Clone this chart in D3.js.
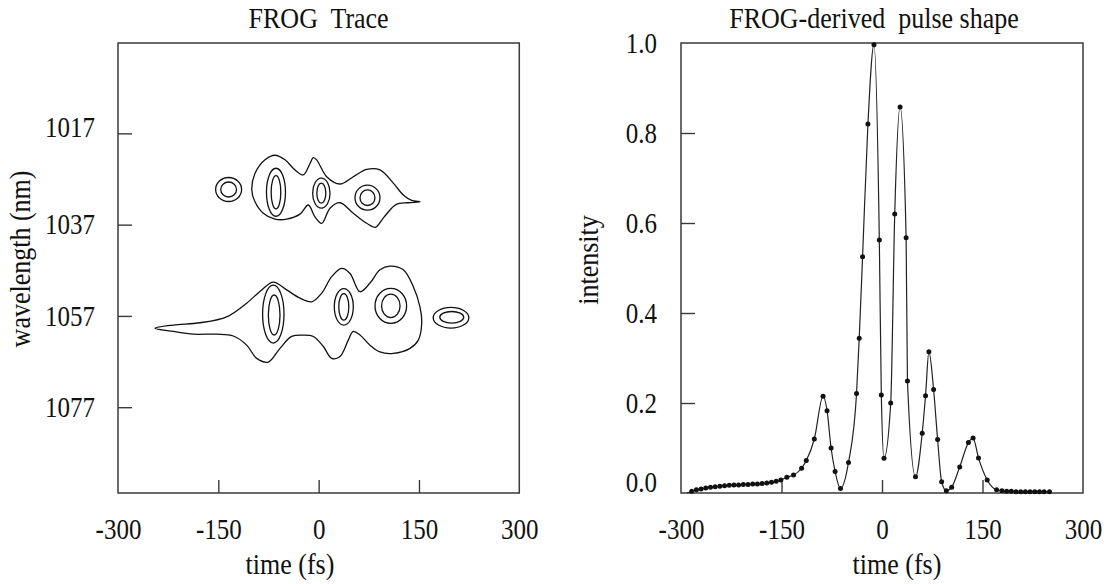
<!DOCTYPE html>
<html><head><meta charset="utf-8">
<script src="https://cdn.jsdelivr.net/npm/d3@7"></script>
<style>
body{margin:0;background:#fff}
svg{display:block}
text{font-family:"Liberation Serif","Times New Roman",serif;fill:#111;white-space:pre}
</style>
</head><body>
<svg id="c" width="1104" height="584"></svg>
<script>
// ---------- data ----------
const traceTimeTicks = [-300, -150, 0, 150, 300];
const traceWaveTicks = [1017, 1037, 1057, 1077];
const pulseTimeTicks = [-300, -150, 0, 150, 300];
const pulseIntensityTicks = [0, 0.2, 0.4, 0.6, 0.8, 1.0];

// outer contour of the upper (short-wavelength) lobe: [time fs, wavelength nm]
const upperOuter = [
  [-100,1029.4],[-95.2,1025.8],[-80.2,1022.8],[-65.3,1021.8],[-50.3,1022.8],[-35.4,1025.0],
  [-23.0,1026.1],[-12.9,1023.6],[-8.0,1022.3],[-2.9,1022.8],[12.0,1026.5],[31.9,1028.1],
  [51.8,1026.5],[71.8,1024.9],[91.7,1025.0],[111.6,1027.9],[126.6,1030.5],[139.1,1031.7],
  [151.5,1032.0],[133.6,1032.2],[115.6,1032.6],[98.0,1035.3],[84.5,1037.6],[71.8,1036.7],
  [51.8,1034.5],[31.9,1032.2],[17.0,1033.4],[4.6,1036.7],[-5.5,1035.3],[-15.5,1032.7],
  [-27.9,1034.7],[-47.8,1035.8],[-65.3,1035.8],[-82.8,1034.5],[-95.2,1032.0]
];
// outer contour of the lower (long-wavelength) lobe
const lowerOuter = [
  [-244.7,1059.7],[-217.3,1059.0],[-177.4,1058.5],[-137.5,1057.2],[-107.6,1054.2],[-85.1,1051.3],
  [-67.8,1049.6],[-47.8,1051.3],[-27.9,1053.1],[-10.4,1053.9],[4.6,1052.0],[19.5,1048.4],
  [34.5,1046.6],[46.9,1047.7],[61.8,1051.7],[76.8,1049.8],[91.7,1046.9],[106.7,1046.1],
  [126.6,1046.9],[141.5,1050.6],[151.5,1055.0],[154.1,1058.6],[149.0,1062.3],[136.6,1064.1],
  [111.6,1065.2],[91.7,1064.9],[76.8,1063.4],[61.8,1061.2],[51.8,1060.4],[44.3,1062.3],
  [31.9,1065.9],[19.5,1066.3],[7.0,1063.7],[-8.0,1061.5],[-23.0,1061.2],[-40.3,1061.5],
  [-57.8,1064.1],[-75.3,1067.1],[-92.6,1066.3],[-107.6,1063.4],[-127.6,1061.4],[-152.4,1061.0],
  [-187.4,1061.0],[-217.3,1060.4]
];
// closed ring contours: centre (time, wavelength) and half-widths (fs, nm)
const ringTime = [-134.6,-134.6,-63.8,-63.8,4.0,4.0,73.0,73.0,-67.8,-66.5,37.6,37.6,107.9,107.9,197.9,199.0];
const ringWave = [1029.3,1029.3,1029.9,1029.9,1030.1,1030.1,1031.1,1031.1,1056.6,1056.8,1055.0,1055.0,1054.8,1054.8,1057.4,1057.3];
const ringHalfTime = [19.4,11.8,14.2,7.2,13.0,6.7,18.7,11.2,16.0,8.7,14.2,7.5,23.6,13.8,26.6,17.9];
const ringHalfWave = [2.63,1.64,5.26,3.66,3.29,2.19,2.74,1.71,6.35,4.38,4.0,2.9,3.83,2.56,2.26,1.27];

// FROG-derived pulse intensity
const pulseTime = [
  -291,-284,-277,-270,-263,-256,-249,-242,-235,-228,-221,-214,-207,-200,-193,-186,-179,-172,-165,-158,-151,
  -142,-132,-120,-113,-101,-88,-82,-76,-70,-62,-50,-38,-34,-29,-21,-12,-4,-1,3,13,19,27,36,38,50,60,65,70,
  77,83,89,96,104,116,129,136,144,157,171,179,186,193,200,207,214,221,228,235,242,250
];
const pulseIntensity = [
  0.000,0.004,0.007,0.009,0.011,0.013,0.014,0.015,0.016,0.017,0.018,0.018,0.019,0.019,0.020,0.020,0.021,0.022,0.024,0.026,0.029,
  0.035,0.040,0.055,0.072,0.120,0.215,0.183,0.100,0.048,0.010,0.068,0.221,0.344,0.525,0.820,0.996,0.562,0.218,0.077,0.200,0.620,0.858,0.567,0.249,0.036,0.133,0.216,0.314,
  0.230,0.119,0.025,0.005,0.013,0.058,0.112,0.122,0.078,0.029,0.007,0.005,0.004,0.004,0.003,0.003,0.003,0.003,0.003,0.003,0.003,0.003
];

// ---------- drawing ----------
const svg = d3.select('#c');
const INK = '#111';
const FRAME = '#3a3a3a';
const SY = 1.16;

const xL = d3.scaleLinear([-300, 300], [118, 519.3]);
const yL = d3.scaleLinear([997.2, 1095.8], [43, 493]);
const xR = d3.scaleLinear([-300, 300], [681, 1083]);
const yR = d3.scaleLinear([0, 1], [493, 43]);

function label(x, y, str, size, rotate) {
  svg.append('text')
    .attr('transform', `translate(${x},${y})` + (rotate ? ' rotate(-90)' : '') + ` scale(1,${SY})`)
    .attr('text-anchor', 'middle')
    .attr('xml:space', 'preserve')
    .style('font-size', size + 'px')
    .text(str);
}

function styleAxis(g, edgeVals) {
  g.select('.domain').remove();
  g.selectAll('.tick line').attr('stroke', FRAME).attr('stroke-width', 1.4)
    .attr('opacity', d => edgeVals.includes(d) ? 0 : 1);
  g.selectAll('.tick text')
    .attr('fill', INK)
    .style('font-family', '"Liberation Serif","Times New Roman",serif')
    .style('font-size', '25px')
    .attr('transform', `scale(1,${SY})`);
}

function frame(x, y) {
  svg.append('rect')
    .attr('x', x.range()[0]).attr('y', Math.min(y.range()[0], y.range()[1]))
    .attr('width', x.range()[1] - x.range()[0])
    .attr('height', Math.abs(y.range()[1] - y.range()[0]))
    .attr('fill', 'none').attr('stroke', FRAME).attr('stroke-width', 1.5);
}

// ----- left panel: FROG trace -----
const gxl = svg.append('g').attr('transform', 'translate(0,493)')
  .call(d3.axisBottom(xL).tickValues(traceTimeTicks).tickFormat(d => String(d))
    .tickSizeInner(-13).tickSizeOuter(0).tickPadding(22));
styleAxis(gxl, [-300, 300]);
const gyl = svg.append('g').attr('transform', 'translate(118,0)')
  .call(d3.axisLeft(yL).tickValues(traceWaveTicks).tickFormat(d => String(d))
    .tickSizeInner(-14).tickSizeOuter(0).tickPadding(23));
styleAxis(gyl, []);
gyl.selectAll('.tick text').filter(d => d === 1017).attr('y', -5);
frame(xL, yL);

const contourLine = d3.line().x(d => xL(d[0])).y(d => yL(d[1]))
  .curve(d3.curveCatmullRomClosed.alpha(0.5));
svg.append('g').selectAll('path').data([upperOuter, lowerOuter]).join('path')
  .attr('d', contourLine).attr('fill', 'none').attr('stroke', INK).attr('stroke-width', 1.3);

svg.append('g').selectAll('ellipse').data(d3.range(ringTime.length)).join('ellipse')
  .attr('cx', i => xL(ringTime[i]))
  .attr('cy', i => yL(ringWave[i]))
  .attr('rx', i => xL(ringTime[i] + ringHalfTime[i]) - xL(ringTime[i]))
  .attr('ry', i => yL(ringWave[i] + ringHalfWave[i]) - yL(ringWave[i]))
  .attr('fill', 'none').attr('stroke', INK).attr('stroke-width', 1.3);

label(318.6, 28, 'FROG  Trace', 26, false);
label(290, 574, 'time (fs)', 26, false);
label(30, 259, 'wavelength (nm)', 26, true);

// ----- right panel: pulse shape -----
const gxr = svg.append('g').attr('transform', 'translate(0,493)')
  .call(d3.axisBottom(xR).tickValues(pulseTimeTicks).tickFormat(d => String(d))
    .tickSizeInner(-13).tickSizeOuter(0).tickPadding(22));
styleAxis(gxr, [-300, 300]);
const gyr = svg.append('g').attr('transform', 'translate(681,0)')
  .call(d3.axisLeft(yR).tickValues(pulseIntensityTicks).tickFormat(d3.format('.1f'))
    .tickSizeInner(-14).tickSizeOuter(0).tickPadding(24));
styleAxis(gyr, [0, 1]);
gyr.selectAll('.tick text').filter(d => d === 0).attr('y', -9.5);
frame(xR, yR);

const idx = d3.range(pulseTime.length);
const pulseLine = d3.line().x(i => xR(pulseTime[i])).y(i => yR(pulseIntensity[i]))
  .curve(d3.curveMonotoneX);
svg.append('path').datum(idx).attr('d', pulseLine)
  .attr('fill', 'none').attr('stroke', '#222').attr('stroke-width', 1.2);
svg.append('g').selectAll('circle').data(idx.slice(1)).join('circle')
  .attr('cx', i => xR(pulseTime[i])).attr('cy', i => yR(pulseIntensity[i]))
  .attr('r', 2.5).attr('fill', INK);

label(874, 28, 'FROG-derived  pulse shape', 26, false);
label(897, 574, 'time (fs)', 26, false);
label(598, 260, 'intensity', 26, true);
</script>
</body></html>
